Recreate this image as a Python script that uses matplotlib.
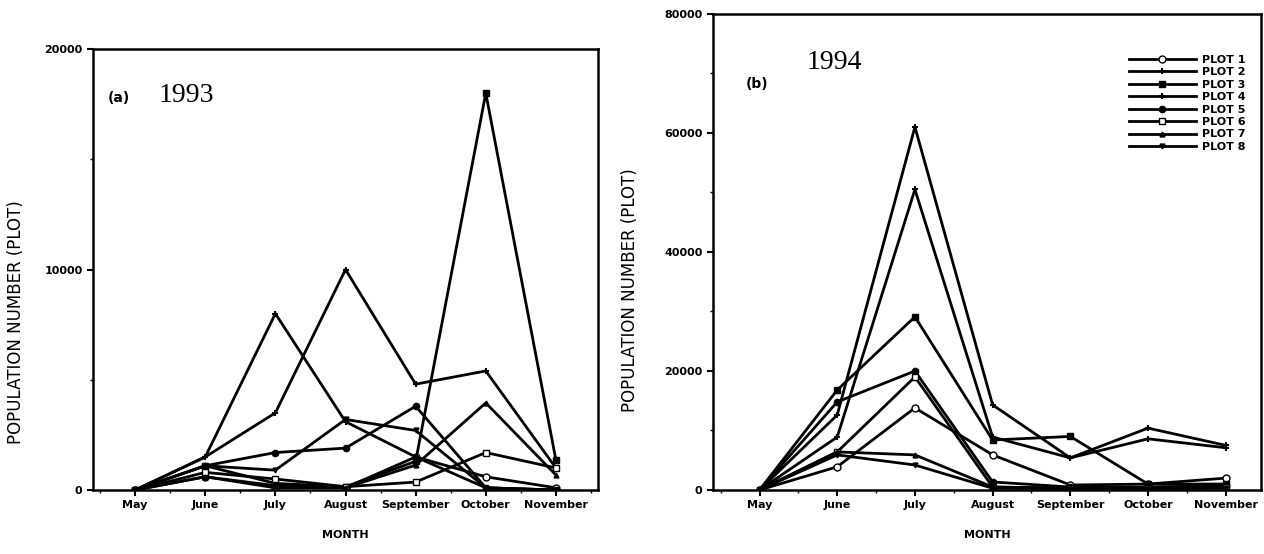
import matplotlib.pyplot as plt
from matplotlib.ticker import MultipleLocator

months = ['May', 'June', 'July', 'August', 'September', 'October', 'November']
plot_names = ['PLOT 1', 'PLOT 2', 'PLOT 3', 'PLOT 4', 'PLOT 5', 'PLOT 6', 'PLOT 7', 'PLOT 8']

# 1993 population numbers per plot (May..November)
pop_1993_p1 = [0, 600, 100, 100, 1500, 600, 100]
pop_1993_p2 = [0, 1500, 8000, 3100, 1500, 100, 0]
pop_1993_p3 = [0, 1100, 300, 150, 1300, 18000, 1360]
pop_1993_p4 = [0, 1500, 3500, 10000, 4800, 5400, 1000]
pop_1993_p5 = [0, 1100, 1700, 1900, 3800, 100, 0]
pop_1993_p6 = [0, 800, 500, 150, 360, 1700, 1000]
pop_1993_p7 = [0, 600, 200, 100, 1130, 3950, 680]
pop_1993_p8 = [0, 1100, 900, 3200, 2700, 100, 0]

# 1994 population numbers per plot (May..November)
pop_1994_p1 = [0, 3900, 13800, 5900, 840, 1000, 2000]
pop_1994_p2 = [0, 8900, 50500, 8900, 5400, 10400, 7500]
pop_1994_p3 = [0, 16800, 29100, 8400, 9000, 1000, 1000]
pop_1994_p4 = [0, 12600, 61000, 14300, 5400, 8600, 7100]
pop_1994_p5 = [0, 14800, 20000, 1350, 500, 500, 800]
pop_1994_p6 = [0, 6400, 19000, 500, 300, 300, 500]
pop_1994_p7 = [0, 6400, 5900, 500, 300, 300, 400]
pop_1994_p8 = [0, 5900, 4200, 300, 200, 200, 300]

data_1993 = [pop_1993_p1, pop_1993_p2, pop_1993_p3, pop_1993_p4,
             pop_1993_p5, pop_1993_p6, pop_1993_p7, pop_1993_p8]
data_1994 = [pop_1994_p1, pop_1994_p2, pop_1994_p3, pop_1994_p4,
             pop_1994_p5, pop_1994_p6, pop_1994_p7, pop_1994_p8]

# marker style per plot, as in the legend
styles = [dict(marker='o', mfc='white', ms=5),
          dict(marker='+', ms=5, mew=1.5),
          dict(marker='s', mfc='black', ms=4.5),
          dict(marker='+', ms=5, mew=1.5),
          dict(marker='o', mfc='black', ms=4.5),
          dict(marker='s', mfc='white', ms=5),
          dict(marker='^', mfc='black', ms=3.5),
          dict(marker='v', mfc='black', ms=3.5)]

plt.rcParams['font.family'] = ['DejaVu Sans']
fig = plt.figure(figsize=(12.64, 5.54), dpi=100)
ax1 = fig.add_axes([0.0736, 0.1155, 0.3995, 0.796])
ax2 = fig.add_axes([0.564, 0.1155, 0.434, 0.8595])

x = list(range(len(months)))


def style_axis(ax, ymax, ystep, xright, ylab_y):
    ax.set_xlim(-0.6, xright)
    ax.set_ylim(0, ymax)
    ax.set_xticks(x)
    ax.set_xticklabels(months, fontsize=8, fontweight='bold')
    ax.yaxis.set_major_locator(MultipleLocator(ystep))
    ax.yaxis.set_minor_locator(MultipleLocator(ystep / 2))
    ax.xaxis.set_minor_locator(MultipleLocator(0.5))
    ax.tick_params(axis='y', labelsize=8, width=1.5, length=4)
    ax.tick_params(axis='x', width=1.5, length=4)
    ax.tick_params(which='minor', length=2, width=1)
    for lab in ax.get_yticklabels():
        lab.set_fontweight('bold')
    for sp in ax.spines.values():
        sp.set_linewidth(1.8)
    ax.set_xlabel('MONTH', fontsize=8, fontweight='bold', labelpad=14)
    ax.set_ylabel('POPULATION NUMBER (PLOT)', fontsize=12)
    ax.yaxis.set_label_coords(-0.135, ylab_y)


for vals, st in zip(data_1993, styles):
    ax1.plot(x, vals, color='black', lw=2, mec='black', **st)
style_axis(ax1, 20000, 10000, 6.6, 0.38)
ax1.text(0.03, 0.88, '(a)', transform=ax1.transAxes, fontsize=10, fontweight='bold')
ax1.text(0.13, 0.88, '1993', transform=ax1.transAxes, fontsize=20,
         family='Liberation Serif')

for vals, st, name in zip(data_1994, styles, plot_names):
    ax2.plot(x, vals, color='black', lw=2, mec='black', label=name, **st)
style_axis(ax2, 80000, 20000, 6.46, 0.42)
ax2.text(0.06, 0.845, '(b)', transform=ax2.transAxes, fontsize=10, fontweight='bold')
ax2.text(0.17, 0.885, '1994', transform=ax2.transAxes, fontsize=20,
         family='Liberation Serif')
leg = ax2.legend(loc='upper right', bbox_to_anchor=(0.99, 0.935), frameon=False,
                 handlelength=6, labelspacing=0.22, handletextpad=0.6,
                 prop={'size': 8, 'weight': 'bold'})

fig.savefig('out.png', dpi=100)
